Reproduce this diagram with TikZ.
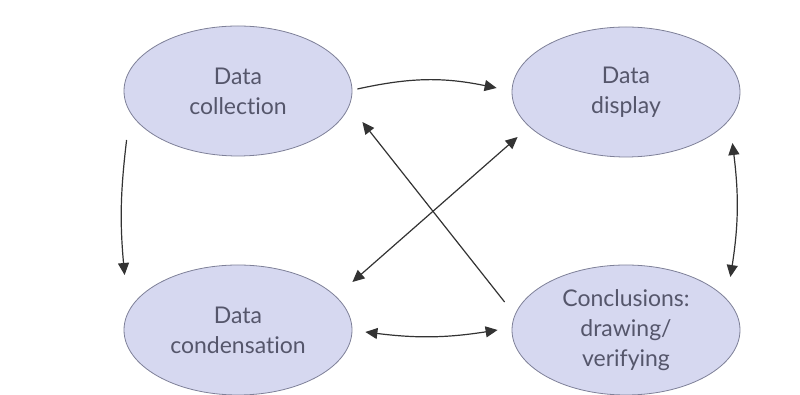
\documentclass[tikz,border=0pt]{standalone}
\usepackage{fontspec}
\setmainfont[Ligatures=NoCommon]{Lato}
\usetikzlibrary{shapes.geometric,arrows.meta}
\definecolor{nen}{HTML}{D6D8F0}
\definecolor{vien}{HTML}{7E8098}
\definecolor{chu}{HTML}{55566B}
\definecolor{mui}{HTML}{333333}
\begin{document}
\begin{tikzpicture}[x=1pt,y=1pt]
		\tikzset{o/.style={ellipse,draw=vien,fill=nen,line width=0.8pt,minimum width=228pt,minimum height=130pt,inner sep=0pt,align=center,text=chu,font=\fontsize{23}{30}\selectfont},
		tip/.tip={Triangle[length=12pt,width=11pt]},
		mt/.style={draw=mui,line width=1.2pt,-tip},
		mt2/.style={draw=mui,line width=1.2pt,tip-tip}}
		\useasboundingbox (0,0) rectangle (800,395);
		\path 
		(238,304) node[o] (col) {Data\\collection}
		(626,303) node[o] (dis) {Data\\display}
		(238,65) node[o] (con) {Data\\condensation}
		(626,65) node[o] (ver) {Conclusions:\\drawing/\\verifying}
		;
		\draw[mt] ([shift={(5,2)}]col.east) to[bend left=12] ([shift={(-15,4)}]dis.west);
		\draw[mt] ([shift={(3,-49)}]col.west) to[bend right=6] ([shift={(1,55)}]con.west);
		\draw[mt2] ([shift={(-8,-51)}]dis.east) to[bend left=8] ([shift={(-10,53)}]ver.east);
		\draw[mt2] ([shift={(13,-2)}]con.east) to[bend right=8] ([shift={(-14,0)}]ver.west);
		\draw[mt] ([shift={(-7,28)}]ver.west)--([shift={(10,-31)}]col.east);
		\draw[mt2] ([shift={(0,48)}]con.east)--([shift={(6,-45)}]dis.west);
	\end{tikzpicture}
\end{document}
